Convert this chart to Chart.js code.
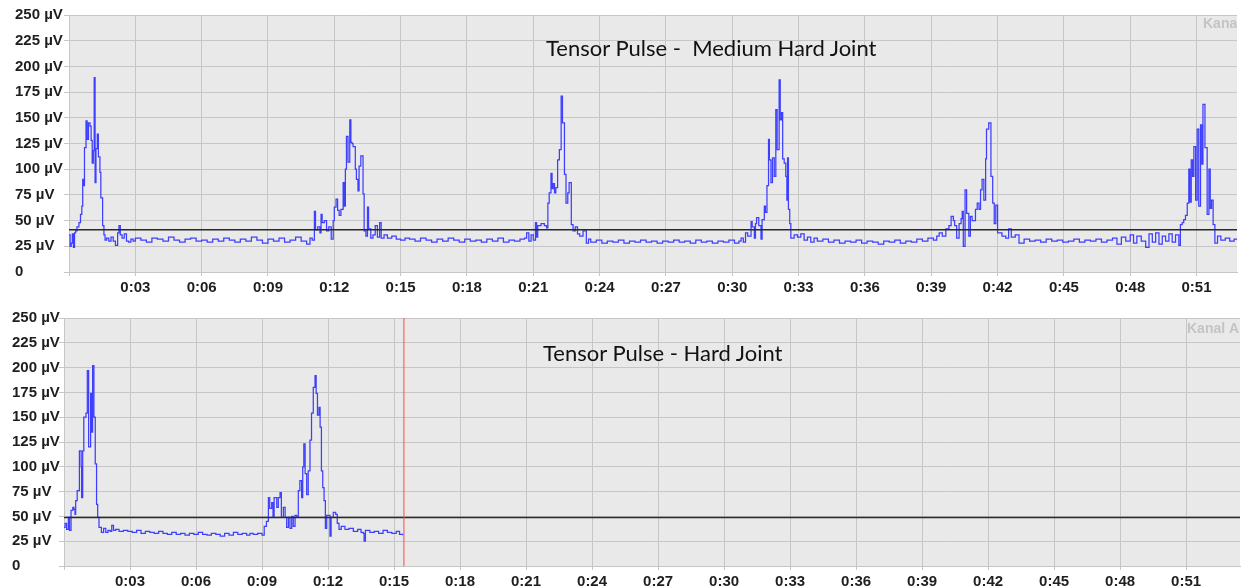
<!DOCTYPE html>
<html>
<head>
<meta charset="utf-8">
<title>Tensor Pulse EMG</title>
<script src="https://cdn.jsdelivr.net/npm/chart.js@4.4.1/dist/chart.umd.min.js"></script>
<style>
  body { margin: 0; background: #fff; width: 1249px; height: 588px; position: relative; overflow: hidden; }
  canvas { position: absolute; left: 0; }
  #topChart { top: 0; }
  #bottomChart { top: 300px; }
  .title { position: absolute; font-family: Lato, "Open Sans", sans-serif; font-size: 22px; color: #111; white-space: pre; line-height: 26px; }
</style>
</head>
<body>
<canvas id="topChart" width="1249" height="300"></canvas>
<canvas id="bottomChart" width="1249" height="288"></canvas>
<div class="title" style="left:546px; top:35px;">Tensor Pulse -  Medium Hard Joint</div>
<div class="title" style="left:543px; top:340px;">Tensor Pulse - Hard Joint</div>
<script>
//------ axes
const xTickSeconds = [0, 3, 6, 9, 12, 15, 18, 21, 24, 27, 30, 33, 36, 39, 42, 45, 48, 51];
const xTickLabels = ['', '0:03', '0:06', '0:09', '0:12', '0:15', '0:18', '0:21', '0:24', '0:27',
  '0:30', '0:33', '0:36', '0:39', '0:42', '0:45', '0:48', '0:51'];
const yTickValues = [0, 25, 50, 75, 100, 125, 150, 175, 200, 225, 250];
const yTickLabels = ['0', '25 µV', '50 µV', '75 µV', '100 µV', '125 µV', '150 µV', '175 µV', '200 µV', '225 µV', '250 µV'];

//------ medium hard joint, [seconds, µV]
const mediumTrace = [
  [0, 36], [0.05, 25], [0.1, 28], [0.15, 37], [0.2, 24], [0.25, 38], [0.3, 40], [0.36, 44], [0.45, 48],
  [0.52, 56], [0.58, 64], [0.62, 90], [0.66, 84], [0.7, 121], [0.77, 147], [0.82, 129], [0.88, 145],
  [0.95, 142], [1.0, 128], [1.05, 106], [1.1, 118], [1.14, 189], [1.18, 87], [1.22, 120], [1.28, 134],
  [1.33, 112], [1.4, 97], [1.44, 72], [1.52, 45], [1.58, 36], [1.63, 31], [1.7, 33], [1.8, 30], [1.9, 34],
  [2.0, 30], [2.1, 26], [2.2, 38], [2.26, 45], [2.32, 36], [2.4, 33], [2.5, 37], [2.6, 30], [2.7, 29],
  [2.8, 32], [2.9, 30],
  [3.0, 33], [3.25, 31], [3.5, 29], [3.75, 33], [4.0, 32], [4.25, 30], [4.5, 34], [4.75, 31], [5.0, 29],
  [5.25, 32], [5.5, 33], [5.75, 30], [6.0, 31], [6.25, 29], [6.5, 32], [6.75, 30], [7.0, 33], [7.25, 31],
  [7.5, 29], [7.75, 32], [8.0, 30], [8.25, 34], [8.5, 31], [8.75, 28], [9.0, 32], [9.25, 30], [9.5, 33],
  [9.75, 29], [10.0, 31], [10.25, 34], [10.5, 30], [10.75, 27], [10.9, 33], [11.0, 31],
  [11.1, 59], [11.15, 41], [11.25, 44], [11.35, 38], [11.4, 56], [11.45, 48], [11.55, 50], [11.65, 40],
  [11.75, 44], [11.86, 32], [11.95, 50], [12.0, 63], [12.08, 71], [12.15, 60], [12.22, 55], [12.3, 61],
  [12.4, 87], [12.45, 64], [12.5, 100], [12.55, 132], [12.62, 107], [12.7, 148], [12.75, 126], [12.8, 125],
  [12.85, 122], [12.95, 100], [13.0, 90], [13.07, 79], [13.12, 103], [13.2, 113], [13.3, 76], [13.35, 40],
  [13.43, 35], [13.5, 63], [13.55, 42], [13.65, 33], [13.75, 36], [13.85, 45], [13.95, 34], [14.05, 48],
  [14.12, 33], [14.25, 36], [14.4, 33], [14.6, 35], [14.8, 32], [15.0, 31], [15.2, 33],
  [15.4, 32], [15.65, 30], [15.9, 33], [16.15, 31], [16.4, 29], [16.65, 32], [16.9, 30], [17.15, 33],
  [17.4, 31], [17.65, 29], [17.9, 32], [18.15, 30], [18.4, 31], [18.65, 29], [18.9, 32], [19.15, 30],
  [19.4, 33], [19.65, 29], [19.9, 31], [20.15, 30], [20.4, 32],
  [20.6, 33], [20.7, 38], [20.8, 30], [20.9, 36], [21.0, 31], [21.1, 48], [21.15, 34], [21.2, 45],
  [21.35, 47], [21.5, 45], [21.6, 43], [21.66, 67], [21.72, 77], [21.8, 96], [21.85, 81], [21.9, 86],
  [21.96, 77], [22.02, 82], [22.1, 109], [22.18, 119], [22.26, 171], [22.32, 145], [22.41, 95], [22.48, 67],
  [22.56, 77], [22.62, 87], [22.72, 46], [22.8, 40], [22.9, 44], [23.0, 37], [23.1, 35], [23.25, 40],
  [23.4, 28], [23.5, 32], [23.6, 29],
  [23.85, 31], [24.1, 28], [24.35, 30], [24.6, 29], [24.85, 31], [25.1, 28], [25.35, 30], [25.6, 29],
  [25.85, 31], [26.1, 29], [26.35, 30], [26.6, 28], [26.85, 30], [27.1, 29], [27.35, 31], [27.6, 29],
  [27.85, 30], [28.1, 28], [28.35, 31], [28.6, 29], [28.85, 30], [29.1, 28], [29.35, 30], [29.6, 29],
  [29.85, 31], [30.1, 28],
  [30.3, 30], [30.4, 33], [30.5, 29], [30.6, 38], [30.7, 35], [30.85, 49], [30.9, 44], [31.0, 33],
  [31.05, 47], [31.1, 53], [31.2, 45], [31.3, 32], [31.35, 51], [31.45, 64], [31.5, 58], [31.57, 84],
  [31.64, 129], [31.68, 109], [31.75, 87], [31.82, 111], [31.9, 93], [31.97, 158], [32.03, 119],
  [32.12, 187], [32.17, 148], [32.23, 155], [32.28, 110], [32.35, 106], [32.42, 93], [32.47, 70],
  [32.5, 111], [32.54, 61], [32.6, 47], [32.65, 33], [32.8, 36], [32.95, 34], [33.1, 37], [33.25, 31],
  [33.4, 34], [33.55, 29], [33.7, 33],
  [33.85, 30], [34.1, 32], [34.35, 29], [34.6, 31], [34.85, 28], [35.1, 30], [35.35, 29], [35.6, 31],
  [35.85, 28], [36.1, 30], [36.35, 29], [36.6, 27], [36.85, 30], [37.1, 29], [37.35, 31], [37.6, 28],
  [37.85, 30], [38.1, 29], [38.35, 32], [38.6, 30], [38.85, 33], [39.1, 31], [39.25, 35],
  [39.36, 38], [39.5, 35], [39.66, 42], [39.8, 45], [39.9, 54], [40.0, 50], [40.06, 45], [40.15, 33],
  [40.26, 47], [40.35, 52], [40.4, 59], [40.45, 25], [40.53, 80], [40.6, 57], [40.7, 35], [40.77, 54],
  [40.85, 50], [41.0, 61], [41.08, 67], [41.16, 61], [41.23, 80], [41.3, 90], [41.38, 70], [41.46, 110],
  [41.5, 139], [41.6, 145], [41.7, 93], [41.78, 67], [41.85, 47], [41.92, 65], [42.0, 38], [42.2, 35],
  [42.37, 33], [42.5, 42], [42.62, 34], [42.8, 36], [42.97, 28],
  [43.2, 32], [43.45, 30], [43.7, 31], [43.95, 29], [44.2, 32], [44.45, 30], [44.7, 31], [44.95, 29],
  [45.2, 30], [45.45, 32], [45.7, 29], [45.95, 31], [46.2, 30], [46.45, 32], [46.7, 29], [46.95, 31],
  [47.2, 33], [47.4, 27], [47.6, 34], [47.8, 30], [48.0, 36], [48.15, 28], [48.3, 35], [48.5, 30],
  [48.7, 24], [48.85, 37], [49.0, 29], [49.15, 38], [49.3, 27], [49.45, 35], [49.6, 30], [49.75, 37],
  [49.9, 29], [50.05, 36], [50.2, 26],
  [50.27, 46], [50.35, 48], [50.42, 51], [50.5, 55], [50.58, 67], [50.65, 100], [50.7, 68], [50.76, 109],
  [50.82, 93], [50.88, 122], [50.96, 70], [51.03, 139], [51.1, 64], [51.18, 143], [51.24, 105],
  [51.29, 163], [51.38, 121], [51.48, 56], [51.56, 100], [51.62, 62], [51.68, 70], [51.75, 46],
  [51.83, 28], [51.95, 35], [52.1, 31], [52.3, 33], [52.5, 30], [52.7, 32], [52.85, 31]
];

//------ hard joint, [seconds, µV]
const hardTrace = [
  [0, 39], [0.05, 43], [0.12, 37], [0.2, 49], [0.25, 36], [0.32, 56], [0.4, 59], [0.45, 57], [0.5, 52],
  [0.53, 66], [0.6, 76], [0.7, 116], [0.78, 100], [0.8, 69], [0.85, 116], [0.9, 150], [1.0, 154],
  [1.06, 197], [1.12, 120], [1.21, 174], [1.25, 135], [1.3, 202], [1.36, 150], [1.42, 103], [1.48, 62],
  [1.53, 49], [1.59, 39], [1.7, 34], [1.8, 38], [1.9, 34], [2.0, 36], [2.1, 35], [2.17, 41], [2.25, 36],
  [2.35, 37], [2.5, 35], [2.7, 36],
  [2.9, 35], [3.1, 34], [3.3, 36], [3.5, 33], [3.7, 35], [3.9, 34], [4.1, 33], [4.3, 35], [4.5, 33],
  [4.7, 32], [4.9, 34], [5.1, 32], [5.3, 33], [5.5, 31], [5.7, 33], [5.9, 32], [6.1, 34], [6.3, 32],
  [6.5, 31], [6.7, 33], [6.9, 32], [7.1, 30], [7.3, 33], [7.5, 31], [7.7, 34], [7.9, 32], [8.1, 33],
  [8.3, 31], [8.45, 33],
  [8.6, 32], [8.8, 33], [9.0, 31], [9.1, 40], [9.2, 45], [9.29, 69], [9.35, 58], [9.44, 64], [9.5, 49],
  [9.55, 69], [9.67, 59], [9.74, 69], [9.82, 74], [9.88, 49], [9.97, 59], [10.05, 49], [10.12, 39],
  [10.2, 49], [10.27, 38], [10.35, 50], [10.42, 40], [10.5, 51], [10.58, 49], [10.65, 76], [10.72, 86],
  [10.8, 69], [10.85, 100], [10.9, 123], [10.96, 93], [11.03, 72], [11.1, 96], [11.18, 127], [11.25, 154],
  [11.33, 180], [11.41, 192], [11.46, 174], [11.52, 152], [11.59, 160], [11.64, 140], [11.7, 96],
  [11.76, 79], [11.82, 66], [11.88, 38], [11.94, 51], [12.02, 51], [12.09, 30], [12.14, 49], [12.24, 54],
  [12.35, 52], [12.42, 43], [12.5, 37], [12.6, 40], [12.77, 37], [12.95, 38], [13.15, 35], [13.35, 37],
  [13.5, 34], [13.6, 33], [13.64, 25], [13.7, 36], [13.9, 34], [14.1, 35], [14.3, 33], [14.5, 36],
  [14.7, 34], [14.9, 33], [15.1, 35], [15.25, 32], [15.4, 31]
];

// threshold levels and the cursor position
const mediumThreshold = 41;
const hardThreshold = 49;
const hardCursor = 15.45;

//------ plugins
const plotBackground = {
  id: 'plotBackground',
  beforeDraw(chart) {
    const a = chart.chartArea;
    chart.ctx.save();
    chart.ctx.fillStyle = '#e9e9e9';
    chart.ctx.fillRect(a.left, a.top, a.right - a.left, a.bottom - a.top);
    chart.ctx.restore();
  }
};

// channel name in the top right corner, cut by the plot edge
const channelTag = {
  id: 'channelTag',
  afterDatasetsDraw(chart, args, opts) {
    const a = chart.chartArea;
    const ctx = chart.ctx;
    ctx.save();
    ctx.beginPath();
    ctx.rect(a.left, a.top, a.right - a.left, a.bottom - a.top);
    ctx.clip();
    ctx.font = 'bold 14px "Liberation Sans", Arial, sans-serif';
    ctx.fillStyle = '#c4c4c4';
    ctx.textBaseline = 'middle';
    ctx.textAlign = 'left';
    ctx.fillText(opts.text, opts.x, opts.y);
    ctx.restore();
  }
};

const tickFont = { family: '"Liberation Sans", Arial, sans-serif', size: 15, weight: 'bold' };

function makeEmgChart(id, trace, threshold, xMax, pad, yWidth, xHeight, tag, extra) {
  const datasets = [
    {
      data: trace.map(p => ({ x: p[0], y: p[1] })),
      borderColor: '#3e3eff',
      borderWidth: 1.25,
      stepped: true,
      pointRadius: 0,
      order: 3
    },
    {
      data: [{ x: 0, y: threshold }, { x: xMax, y: threshold }],
      borderColor: '#2a2a2a',
      borderWidth: 1.5,
      pointRadius: 0,
      order: 2
    }
  ];
  if (extra) datasets.push(extra);

  return new Chart(document.getElementById(id), {
    type: 'line',
    data: { datasets },
    options: {
      responsive: false,
      animation: false,
      devicePixelRatio: 1,
      layout: { padding: pad },
      plugins: {
        legend: { display: false },
        tooltip: { enabled: false },
        channelTag: tag
      },
      scales: {
        x: {
          type: 'linear',
          min: 0,
          max: xMax,
          afterBuildTicks: axis => { axis.ticks = xTickSeconds.map(v => ({ value: v })); },
          afterFit: axis => { axis.height = xHeight; },
          ticks: {
            autoSkip: false,
            maxRotation: 0,
            font: tickFont,
            color: '#1e1e1e',
            callback: (v, i) => xTickLabels[i]
          },
          grid: { color: '#c6c6c6', tickLength: 4 },
          border: { color: '#c6c6c6' }
        },
        y: {
          min: 0,
          max: 250,
          afterBuildTicks: axis => { axis.ticks = yTickValues.map(v => ({ value: v })); },
          afterFit: axis => { axis.width = yWidth; },
          ticks: {
            crossAlign: 'far',
            font: tickFont,
            color: '#1e1e1e',
            callback: (v, i) => yTickLabels[i]
          },
          grid: { color: '#c6c6c6', tickLength: 5 },
          border: { color: '#c6c6c6' }
        }
      }
    },
    plugins: [plotBackground, channelTag]
  });
}

makeEmgChart('topChart', mediumTrace, mediumThreshold, 52.83,
  { left: 15, top: 15, right: 12, bottom: 0 }, 54, 28,
  { text: 'Kanal A', x: 1203, y: 24 });

makeEmgChart('bottomChart', hardTrace, hardThreshold, 53.45,
  { left: 12, top: 18, right: 9, bottom: 0 }, 52, 22,
  { text: 'Kanal A', x: 1187, y: 29 },
  {
    data: [{ x: hardCursor, y: 0 }, { x: hardCursor, y: 250 }],
    borderColor: '#ff4a4a',
    borderWidth: 1,
    pointRadius: 0,
    order: 1
  });
</script>
</body>
</html>
